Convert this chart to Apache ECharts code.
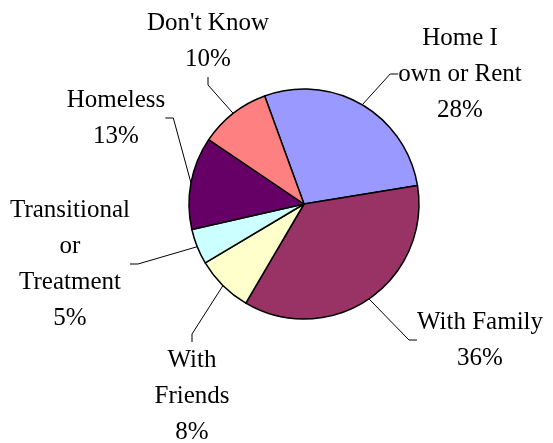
<!DOCTYPE html>
<html>
<head>
<meta charset="utf-8">
<script src="https://cdn.jsdelivr.net/npm/echarts@6/dist/echarts.min.js"></script>
<style>
html,body{margin:0;padding:0;background:#fff;}
#chart{width:553px;height:443px;}
</style>
</head>
<body>
<div id="chart"></div>
<script>
// Data
const categories = ["Home I\nown or Rent", "With Family", "With\nFriends", "Transitional\nor\nTreatment", "Homeless", "Don't Know"];
const values = [28, 36, 8, 5, 13, 10];

// Styling / layout (not data)
const colors = ["#9999FF", "#993366", "#FFFFCC", "#CCFFFF", "#660066", "#FF8080"];
const labelPos = [[460, 74], [480, 340], [192, 396], [70, 264], [116, 118], [208, 41]];

const chart = echarts.init(document.getElementById('chart'), null, {renderer: 'canvas'});
chart.setOption({
  backgroundColor: '#ffffff',
  animation: false,
  series: [{
    type: 'pie',
    center: [304, 204],
    radius: [0, 115],
    startAngle: 110,
    clockwise: true,
    data: categories.map((c, i) => ({name: c, value: values[i], itemStyle: {color: colors[i]}})),
    itemStyle: {borderColor: '#000', borderWidth: 1.5},
    emphasis: {disabled: true},
    label: {
      show: true,
      position: 'outside',
      formatter: p => p.name + '\n' + p.value + '%',
      fontFamily: 'Liberation Serif',
      fontSize: 25,
      lineHeight: 36,
      color: '#000',
      align: 'center'
    },
    labelLine: {show: true, length: 12, length2: 8, lineStyle: {color: '#000', width: 1}},
    labelLayout: function (params) {
      const p = labelPos[params.dataIndex];
      return {x: p[0], y: p[1], align: 'center', verticalAlign: 'middle'};
    }
  }]
});
</script>
</body>
</html>
